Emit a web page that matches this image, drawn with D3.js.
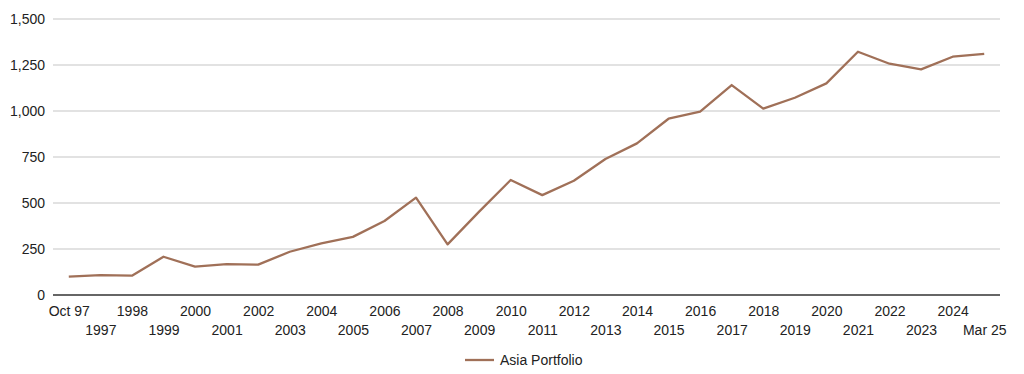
<!DOCTYPE html>
<html>
<head>
<meta charset="utf-8">
<script src="https://cdn.jsdelivr.net/npm/d3@7"></script>
<style>
  body { margin: 0; background: #fff; }
  text { font-family: "Liberation Sans", Arial, sans-serif; fill: #222; }
</style>
</head>
<body>
<svg width="1024" height="374"></svg>
<script>
  const categories = ["Oct 97", "1997", "1998", "1999", "2000", "2001", "2002", "2003", "2004",
    "2005", "2006", "2007", "2008", "2009", "2010", "2011", "2012", "2013", "2014", "2015",
    "2016", "2017", "2018", "2019", "2020", "2021", "2022", "2023", "2024", "Mar 25"];
  const asiaPortfolio = [100, 108, 105, 208, 154, 168, 165, 235, 280, 316,
    402, 529, 275, 453, 625, 543, 621, 739, 824, 958,
    996, 1141, 1013, 1072, 1150, 1322, 1257, 1226, 1295, 1311];
  const yTicks = [0, 250, 500, 750, 1000, 1250, 1500];
  const seriesName = "Asia Portfolio";

  const width = 1024;
  const height = 374;
  const margin = { top: 19, right: 24, bottom: 79, left: 53 };
  const lineColor = "#a07058";

  const svg = d3.select("svg");

  const x = d3.scalePoint()
    .domain(categories)
    .range([margin.left, width - margin.right])
    .padding(0.5);

  const y = d3.scaleLinear()
    .domain([0, 1500])
    .range([height - margin.bottom, margin.top]);

  // gridlines
  svg.append("g")
    .selectAll("line")
    .data(yTicks.filter(d => d > 0))
    .enter().append("line")
    .attr("x1", margin.left)
    .attr("x2", width - margin.right)
    .attr("y1", d => y(d))
    .attr("y2", d => y(d))
    .attr("stroke", "#d9d9d9")
    .attr("stroke-width", 1.3);

  // y axis labels
  const yAxis = svg.append("g")
    .attr("transform", `translate(${margin.left},0)`)
    .call(d3.axisLeft(y).tickValues(yTicks).tickSize(0).tickPadding(8).tickFormat(d3.format(",")));
  yAxis.select(".domain").remove();
  yAxis.selectAll("text").style("font-size", "14px").style("font-family", null).attr("fill", "#222");

  // x axis, labels in two rows
  const xAxis = svg.append("g")
    .attr("transform", `translate(0,${y(0)})`)
    .call(d3.axisBottom(x).tickSize(0).tickPadding(0));
  xAxis.select(".domain")
    .attr("d", `M${margin.left},0H${width - margin.right}`)
    .attr("stroke", "#333")
    .attr("stroke-width", 1.5);
  xAxis.selectAll("text")
    .style("font-size", "14px")
    .style("font-family", null)
    .attr("fill", "#222")
    .attr("dy", null)
    .attr("y", (d, i) => i % 2 === 0 ? 21 : 40);

  // series line
  const line = d3.line()
    .x((d, i) => x(categories[i]))
    .y(d => y(d));

  svg.append("path")
    .datum(asiaPortfolio)
    .attr("fill", "none")
    .attr("stroke", lineColor)
    .attr("stroke-width", 2.3)
    .attr("stroke-linejoin", "round")
    .attr("d", line);

  // legend
  const legend = svg.append("g").attr("transform", "translate(465,360)");
  legend.append("line")
    .attr("x1", 0).attr("x2", 29)
    .attr("stroke", lineColor)
    .attr("stroke-width", 2.3);
  legend.append("text")
    .attr("x", 35)
    .attr("dy", "0.35em")
    .style("font-size", "14px")
    .text(seriesName);
</script>
</body>
</html>
